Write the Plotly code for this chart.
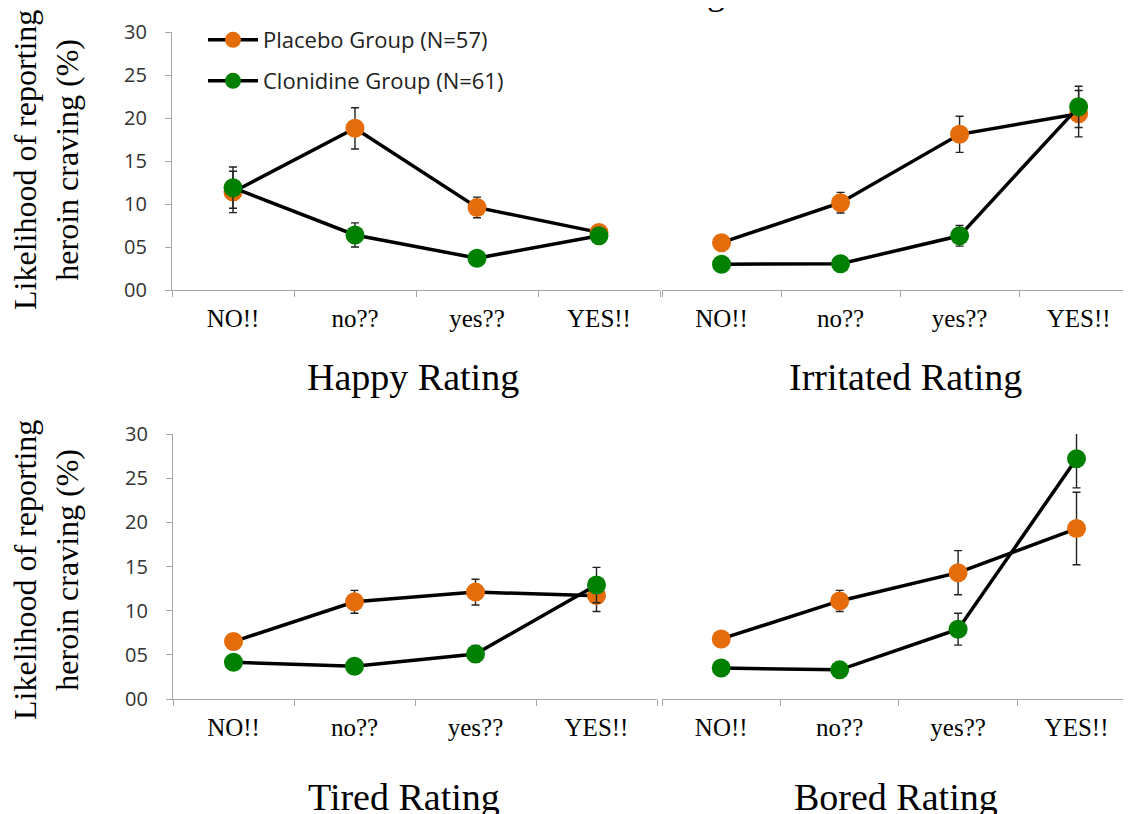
import plotly.graph_objects as go

categories = ["NO!!", "no??", "yes??", "YES!!"]
y_ticks = [0, 5, 10, 15, 20, 25, 30]
y_ticktext = ["00", "05", "10", "15", "20", "25", "30"]

panel_titles = ["Happy Rating", "Irritated Rating", "Tired Rating", "Bored Rating"]

happy_placebo = [11.4, 18.8, 9.6, 6.7]
happy_placebo_err = [2.4, 2.4, 1.2, 0.6]
happy_clonidine = [11.9, 6.4, 3.7, 6.3]
happy_clonidine_err = [2.4, 1.4, 0.3, 0.5]

irritated_placebo = [5.5, 10.15, 18.1, 20.5]
irritated_placebo_err = [0.3, 1.2, 2.1, 2.7]
irritated_clonidine = [3.0, 3.05, 6.3, 21.3]
irritated_clonidine_err = [0.2, 0.2, 1.2, 2.4]

tired_placebo = [6.5, 11.0, 12.1, 11.7]
tired_placebo_err = [0.9, 1.3, 1.45, 1.8]
tired_clonidine = [4.15, 3.7, 5.1, 12.9]
tired_clonidine_err = [0.3, 0.3, 0.95, 2.0]

bored_placebo = [6.8, 11.1, 14.3, 19.3]
bored_placebo_err = [0.3, 1.2, 2.5, 4.1]
bored_clonidine = [3.5, 3.3, 7.9, 27.2]
bored_clonidine_err = [0.2, 0.2, 1.8, 3.3]

placebo_name = "Placebo Group (N=57)"
clonidine_name = "Clonidine Group (N=61)"
ORANGE = "#E46C0A"
GREEN = "#008000"

# page is 1131x814; the html body has an 8px margin, so the figure is offset
PAGE_W, PAGE_H = 1131, 814
OFF = 8
W, H = PAGE_W - OFF, PAGE_H - OFF


def px(x):
    return (x - OFF) / W


def py(y):
    return 1 - (y - OFF) / H


panels = [
    (happy_placebo, happy_placebo_err, happy_clonidine, happy_clonidine_err),
    (irritated_placebo, irritated_placebo_err, irritated_clonidine, irritated_clonidine_err),
    (tired_placebo, tired_placebo_err, tired_clonidine, tired_clonidine_err),
    (bored_placebo, bored_placebo_err, bored_clonidine, bored_clonidine_err),
]

# page-pixel layout: (x0, x1, y_top(30), y_bottom(0), xrange_max)
geom = [
    (172, 660, 32, 290, 3.5),
    (662, 1131, 32, 290, 3.44),
    (173, 657, 434, 699, 3.5),
    (662, 1131, 434, 699, 3.46),
]

fig = go.Figure()

for i, (pv, pe, cv, ce) in enumerate(panels):
    ax = "" if i == 0 else str(i + 1)
    for vals, errs, color, name, lg in [
        (pv, pe, ORANGE, placebo_name, "legend"),
        (cv, ce, GREEN, clonidine_name, "legend2"),
    ]:
        fig.add_trace(go.Scatter(
            x=categories, y=vals,
            mode="lines+markers",
            name=name,
            line=dict(color="black", width=3.5),
            marker=dict(color=color, size=19),
            error_y=dict(type="data", array=errs, visible=True,
                         color="#222222", thickness=1.4, width=4),
            xaxis="x" + ax, yaxis="y" + ax,
            showlegend=(i == 0),
            legend=lg,
        ))

axis_color = "#A6A6A6"
layout = dict(
    width=W, height=H,
    margin=dict(l=0, r=0, t=0, b=0, autoexpand=False),
    paper_bgcolor="white", plot_bgcolor="white",
)
for i, (x0, x1, yt, yb, xmax) in enumerate(geom):
    ax = "" if i == 0 else str(i + 1)
    layout["xaxis" + ax] = dict(
        domain=[px(x0), min(1, px(x1))],
        anchor="y" + ax,
        type="category",
        range=[-0.5, xmax],
        automargin=False,
        showline=True, linecolor=axis_color, linewidth=1.3,
        ticks="outside", tickson="boundaries", ticklen=6, tickcolor=axis_color,
        showgrid=False, zeroline=False,
        tickfont=dict(family="Liberation Serif", size=25, color="black"),
        ticklabelstandoff=6,
        fixedrange=True,
    )
    layout["yaxis" + ax] = dict(
        domain=[py(yb), py(yt)],
        anchor="x" + ax,
        range=[0, 30],
        automargin=False,
        tickvals=y_ticks, ticktext=y_ticktext,
        showline=(i in (0, 2)), linecolor=axis_color, linewidth=1.3,
        ticks="outside" if i in (0, 2) else "", ticklen=6, tickcolor=axis_color,
        showticklabels=(i in (0, 2)),
        showgrid=False, zeroline=False,
        tickfont=dict(family="Open Sans", size=20, color="#333333"),
        ticklabelstandoff=14,
        fixedrange=True,
    )

legend_common = dict(
    xanchor="left", yanchor="middle",
    font=dict(family="Open Sans", size=22, color="#222222"),
    bgcolor="rgba(0,0,0,0)", borderwidth=0, itemwidth=50,
)
layout["legend"] = dict(x=px(203), y=py(40), **legend_common)
layout["legend2"] = dict(x=px(203), y=py(81), **legend_common)

annotations = []
title_pos = [(413, 377), (905, 377), (404, 797), (896, 797)]
for t, (cx, cy) in zip(panel_titles, title_pos):
    annotations.append(dict(
        text=t, x=px(cx), y=py(cy), xref="paper", yref="paper",
        xanchor="center", yanchor="middle", showarrow=False,
        font=dict(family="Liberation Serif", size=38, color="black"),
    ))
for cy in (160, 570):
    annotations.append(dict(
        text="Likelihood of reporting<br>heroin craving (%)",
        x=px(46), y=py(cy), xref="paper", yref="paper",
        xanchor="center", yanchor="middle", showarrow=False, textangle=-90,
        font=dict(family="Liberation Serif", size=32, color="black"),
    ))
# partially visible main title (only the descender of a "g" shows)
annotations.append(dict(
    text="g", x=px(716), y=1, xref="paper", yref="paper",
    xanchor="center", yanchor="bottom", yshift=-6, showarrow=False,
    font=dict(family="Liberation Serif", size=36, color="black"),
))
layout["annotations"] = annotations

fig.update_layout(**layout)
fig.write_html("out.html")
